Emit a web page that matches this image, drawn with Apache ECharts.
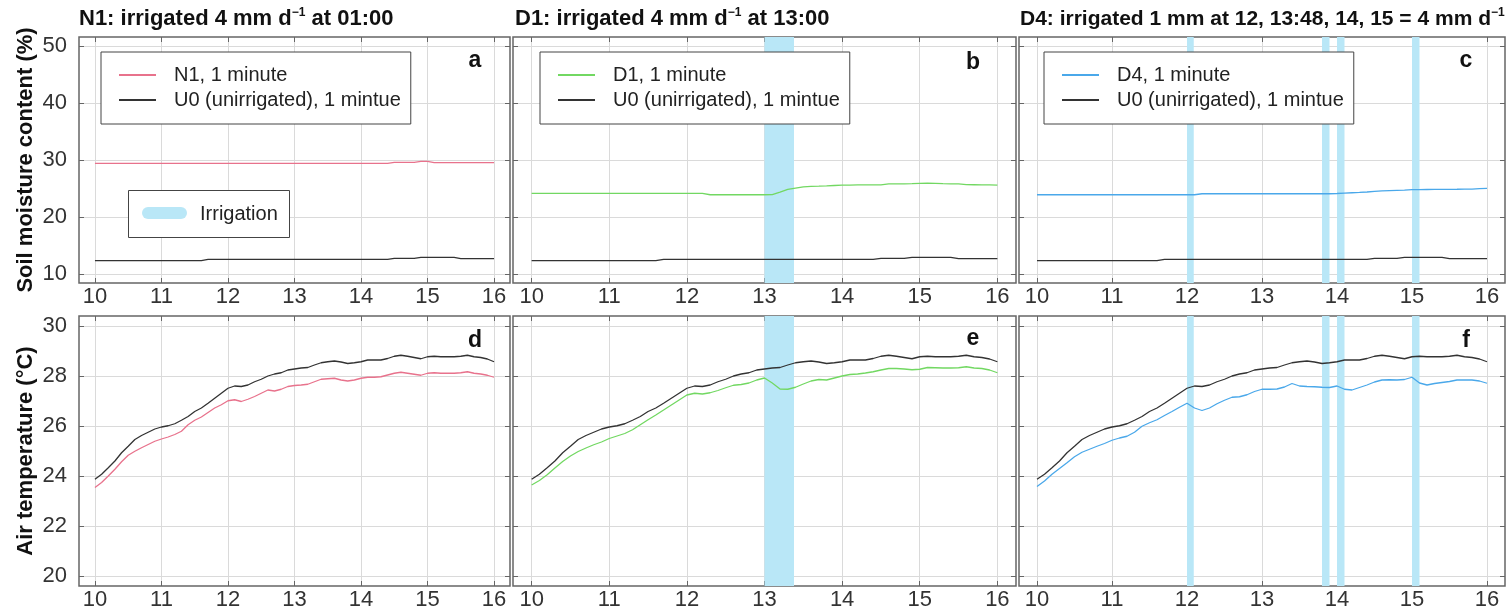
<!DOCTYPE html>
<html><head><meta charset="utf-8">
<script src="https://cdn.jsdelivr.net/npm/echarts@6/dist/echarts.min.js"></script>
<style>html,body{margin:0;padding:0;background:#fff}#c{width:1506px;height:614px}</style>
</head><body><div id="c"></div>
<script>
// ---------- DATA ----------
const hours = [10.0,10.1,10.2,10.3,10.4,10.5,10.6,10.7,10.8,10.9,
  11.0,11.1,11.2,11.3,11.4,11.5,11.6,11.7,11.8,11.9,
  12.0,12.1,12.2,12.3,12.4,12.5,12.6,12.7,12.8,12.9,
  13.0,13.1,13.2,13.3,13.4,13.5,13.6,13.7,13.8,13.9,
  14.0,14.1,14.2,14.3,14.4,14.5,14.6,14.7,14.8,14.9,
  15.0,15.1,15.2,15.3,15.4,15.5,15.6,15.7,15.8,15.9,16.0];

// Soil moisture content (%)
const moistU0 = [12.33,12.33,12.33,12.33,12.33,12.33,12.33,12.33,12.33,12.33,
  12.33,12.33,12.33,12.33,12.33,12.33,12.33,12.56,12.56,12.56,
  12.56,12.56,12.56,12.56,12.56,12.56,12.56,12.56,12.56,12.56,
  12.56,12.56,12.56,12.56,12.56,12.56,12.56,12.56,12.56,12.56,
  12.56,12.56,12.56,12.56,12.56,12.73,12.73,12.73,12.73,12.9,
  12.9,12.9,12.9,12.9,12.9,12.67,12.67,12.67,12.67,12.67,12.67];
const moistN1 = [29.42,29.42,29.42,29.42,29.42,29.42,29.42,29.42,29.42,29.42,
  29.42,29.42,29.42,29.42,29.42,29.42,29.42,29.42,29.42,29.42,
  29.42,29.42,29.42,29.42,29.42,29.42,29.42,29.42,29.42,29.42,
  29.42,29.42,29.42,29.42,29.42,29.42,29.42,29.42,29.42,29.42,
  29.42,29.42,29.42,29.42,29.42,29.6,29.6,29.6,29.6,29.77,
  29.77,29.53,29.53,29.53,29.53,29.53,29.53,29.53,29.53,29.53,29.53];
const moistD1 = [24.13,24.13,24.13,24.13,24.13,24.13,24.13,24.13,24.13,24.13,
  24.13,24.13,24.13,24.13,24.13,24.13,24.13,24.13,24.13,24.13,
  24.13,24.13,24.13,23.9,23.9,23.9,23.9,23.9,23.9,23.9,
  23.9,23.92,24.36,24.83,25.06,25.29,25.36,25.4,25.45,25.52,
  25.58,25.6,25.62,25.62,25.62,25.64,25.8,25.8,25.82,25.84,
  25.9,25.92,25.9,25.85,25.82,25.8,25.68,25.65,25.62,25.62,25.6];
const moistD4 = [23.9,23.9,23.9,23.9,23.9,23.9,23.9,23.9,23.9,23.9,
  23.9,23.9,23.9,23.9,23.9,23.9,23.9,23.9,23.9,23.9,
  23.9,23.9,24.07,24.07,24.07,24.07,24.07,24.07,24.07,24.07,
  24.07,24.07,24.07,24.07,24.07,24.07,24.07,24.07,24.07,24.07,
  24.12,24.2,24.25,24.3,24.38,24.5,24.58,24.62,24.66,24.7,
  24.78,24.8,24.82,24.83,24.84,24.85,24.86,24.88,24.9,24.98,25.0];

// Air temperature (°C)
const tempU0 = [23.87,24.07,24.33,24.6,24.93,25.19,25.46,25.62,25.75,25.88,
  25.96,26.01,26.09,26.23,26.38,26.58,26.72,26.91,27.11,27.31,
  27.51,27.6,27.58,27.64,27.77,27.87,28.0,28.08,28.13,28.24,
  28.28,28.32,28.34,28.44,28.53,28.57,28.6,28.56,28.5,28.53,
  28.57,28.64,28.64,28.64,28.7,28.79,28.83,28.79,28.74,28.69,
  28.77,28.79,28.77,28.77,28.77,28.79,28.83,28.77,28.74,28.68,28.57];
const tempN1 = [23.54,23.74,24.0,24.27,24.57,24.83,24.99,25.13,25.26,25.39,
  25.48,25.56,25.66,25.79,26.05,26.23,26.36,26.54,26.72,26.85,
  27.01,27.05,26.98,27.07,27.18,27.31,27.44,27.4,27.47,27.58,
  27.62,27.64,27.67,27.77,27.87,27.89,27.91,27.84,27.8,27.84,
  27.91,27.95,27.95,27.97,28.04,28.11,28.15,28.11,28.07,28.03,
  28.11,28.13,28.11,28.11,28.11,28.13,28.17,28.11,28.08,28.03,27.95];
const tempD1 = [23.64,23.82,24.05,24.32,24.58,24.8,24.98,25.12,25.25,25.36,
  25.5,25.6,25.7,25.85,26.05,26.25,26.44,26.64,26.84,27.04,
  27.24,27.31,27.28,27.33,27.42,27.53,27.63,27.66,27.72,27.84,
  27.92,27.72,27.48,27.47,27.55,27.68,27.8,27.86,27.84,27.92,
  28.0,28.06,28.08,28.12,28.17,28.24,28.3,28.3,28.28,28.25,
  28.27,28.34,28.33,28.32,28.32,28.33,28.37,28.32,28.3,28.24,28.13];
const tempD4 = [23.58,23.8,24.07,24.3,24.53,24.77,24.95,25.07,25.19,25.3,
  25.43,25.52,25.59,25.75,25.99,26.13,26.25,26.42,26.58,26.75,
  26.91,26.72,26.62,26.72,26.89,27.03,27.15,27.17,27.25,27.38,
  27.47,27.47,27.48,27.56,27.7,27.6,27.58,27.57,27.55,27.54,
  27.6,27.47,27.44,27.54,27.64,27.76,27.84,27.85,27.84,27.86,
  27.95,27.72,27.64,27.7,27.74,27.78,27.84,27.84,27.84,27.8,27.71];

// Irrigation periods (hour of day)
const bandsN1 = [];
const bandsD1 = [[13.0, 13.38]];
const bandsD4 = [[12.0, 12.09], [13.8, 13.9], [14.0, 14.1], [15.0, 15.1]];

// Tick labels
const xTicks = [10, 11, 12, 13, 14, 15, 16];
const moistTicks = [10, 20, 30, 40, 50];
const tempTicks = [20, 22, 24, 26, 28, 30];

// Text
const nameU0 = 'U0 (unirrigated), 1 mintue';
const nameN1 = 'N1, 1 minute';
const nameD1 = 'D1, 1 minute';
const nameD4 = 'D4, 1 minute';
const panelTitles = [
  ['N1: irrigated 4 mm d', '−1', ' at 01:00'],
  ['D1: irrigated 4 mm d', '−1', ' at 13:00'],
  ['D4: irrigated 1 mm at 12, 13:48, 14, 15 = 4 mm d', '−1', '']
];
const panelLetters = ['a', 'b', 'c', 'd', 'e', 'f'];
const yTitleMoist = 'Soil moisture content (%)';
const yTitleTemp = 'Air temperature (°C)';
const irrigationLabel = 'Irrigation';

// ---------- STYLE / LAYOUT ----------
const FONT = '"Liberation Sans", Arial, Helvetica, sans-serif';
const colU0 = '#333333', colN1 = '#e8728c', colD1 = '#72d862', colD4 = '#4aa8ea';
const bandColor = '#b9e7f7';
const frameColor = '#666666';
const cols = [{left: 79, width: 431}, {left: 513, width: 503}, {left: 1019, width: 486}];
const rows = [{top: 37, height: 246}, {top: 316, height: 270}];
const xMin = 9.76, xMax = 16.24;
const moistRange = [8.4, 51.6], tempRange = [19.6, 30.4];

const panels = [
  {col:0,row:0, main:[nameN1, moistN1, colN1], bands: bandsN1},
  {col:1,row:0, main:[nameD1, moistD1, colD1], bands: bandsD1},
  {col:2,row:0, main:[nameD4, moistD4, colD4], bands: bandsD4},
  {col:0,row:1, main:[nameN1, tempN1, colN1], bands: bandsN1},
  {col:1,row:1, main:[nameD1, tempD1, colD1], bands: bandsD1},
  {col:2,row:1, main:[nameD4, tempD4, colD4], bands: bandsD4}
];

const grid = [], xAxis = [], yAxis = [], series = [];
panels.forEach((p, i) => {
  const c = cols[p.col], r = rows[p.row];
  grid.push({left: c.left, top: r.top, width: c.width, height: r.height, show: true,
    borderColor: frameColor, borderWidth: 1.5, backgroundColor: 'transparent'});
  const yR = p.row === 0 ? moistRange : tempRange;
  const yT = p.row === 0 ? moistTicks : tempTicks;
  const tickStyle = {show: true, inside: true, length: 5, lineStyle: {color: frameColor, width: 1}};
  xAxis.push({type: 'value', gridIndex: i, min: xMin, max: xMax, position: 'bottom',
    axisLine: {show: false},
    axisTick: Object.assign({customValues: xTicks}, tickStyle),
    axisLabel: {customValues: xTicks, fontSize: 22, color: '#333', margin: 3, fontFamily: FONT},
    splitLine: {show: true, lineStyle: {color: '#dadada', width: 1}}});
  xAxis.push({type: 'value', gridIndex: i, min: xMin, max: xMax, position: 'top',
    axisLine: {show: false}, axisLabel: {show: false}, splitLine: {show: false},
    axisTick: Object.assign({customValues: xTicks}, tickStyle)});
  yAxis.push({type: 'value', gridIndex: i, min: yR[0], max: yR[1], position: 'left',
    axisLine: {show: false},
    axisTick: Object.assign({customValues: yT}, tickStyle),
    axisLabel: {show: p.col === 0, customValues: yT, fontSize: 22, color: '#333', margin: 12, fontFamily: FONT},
    splitLine: {show: true, lineStyle: {color: '#dadada', width: 1}}});
  yAxis.push({type: 'value', gridIndex: i, min: yR[0], max: yR[1], position: 'right',
    axisLine: {show: false}, axisLabel: {show: false}, splitLine: {show: false},
    axisTick: Object.assign({customValues: yT}, tickStyle)});

  const u0 = p.row === 0 ? moistU0 : tempU0;
  series.push({
    type: 'line', name: p.main[0], xAxisIndex: 2*i, yAxisIndex: 2*i,
    data: hours.map((h, k) => [h, p.main[1][k]]),
    showSymbol: false, symbol: 'none', color: p.main[2],
    lineStyle: {width: 1.3, color: p.main[2]}, z: 3,
    markArea: {silent: true, itemStyle: {color: bandColor, opacity: 1},
      data: p.bands.map(b => [{xAxis: b[0]}, {xAxis: b[1]}])}
  });
  series.push({
    type: 'line', name: nameU0, xAxisIndex: 2*i, yAxisIndex: 2*i,
    data: hours.map((h, k) => [h, u0[k]]),
    showSymbol: false, symbol: 'none', color: colU0,
    lineStyle: {width: 1.3, color: colU0}, z: 4
  });
});

const legendBase = {orient: 'vertical', top: 52, padding: [13, 10, 14, 18],
  icon: 'rect', itemWidth: 37, itemHeight: 2, itemGap: 5, borderColor: '#444', borderWidth: 1,
  backgroundColor: '#fff', selectedMode: false, z: 20,
  textStyle: {fontSize: 20, color: '#222', fontFamily: FONT, lineHeight: 20, padding: [0, 0, 0, 13]}};
const legend = [
  Object.assign({}, legendBase, {left: 101, data: [nameN1, nameU0]}),
  Object.assign({}, legendBase, {left: 540, data: [nameD1, nameU0]}),
  Object.assign({}, legendBase, {left: 1044, data: [nameD4, nameU0]})
];

const graphic = [];
const titleX = [79, 515, 1020];
const titleSize = [22, 22, 21];
panelTitles.forEach((t, j) => {
  graphic.push({type: 'text', x: titleX[j], y: 19, z: 100, style: {
    text: '{b|' + t[0] + '}{s|' + t[1] + '}{b|' + t[2] + '}',
    verticalAlign: 'middle', align: 'left',
    rich: {b: {fontSize: titleSize[j], fontWeight: 'bold', fontFamily: FONT, fill: '#111', lineHeight: 24},
           s: {fontSize: 12, fontWeight: 'bold', fontFamily: FONT, fill: '#111', lineHeight: 12, verticalAlign: 'top'}}}});
});
const letterPos = [[475, 61], [973, 63], [1466, 61], [475, 341], [973, 339], [1466, 341]];
panelLetters.forEach((l, j) => {
  graphic.push({type: 'text', x: letterPos[j][0], y: letterPos[j][1], z: 100, style: {
    text: l, fontSize: 23, fontWeight: 'bold', fontFamily: FONT, fill: '#111',
    align: 'center', verticalAlign: 'middle'}});
});
graphic.push({type: 'text', x: 26, y: 160, rotation: Math.PI / 2, z: 100, style: {
  text: yTitleMoist, fontSize: 22, fontWeight: 'bold', fontFamily: FONT, fill: '#111',
  align: 'center', verticalAlign: 'middle'}});
graphic.push({type: 'text', x: 26, y: 451, rotation: Math.PI / 2, z: 100, style: {
  text: yTitleTemp, fontSize: 22, fontWeight: 'bold', fontFamily: FONT, fill: '#111',
  align: 'center', verticalAlign: 'middle'}});
// Irrigation legend box
graphic.push({type: 'rect', z: 100, shape: {x: 128.5, y: 190.5, width: 161, height: 47},
  style: {fill: '#fff', stroke: '#444', lineWidth: 1}});
graphic.push({type: 'line', z: 101, shape: {x1: 148, y1: 213, x2: 181, y2: 213},
  style: {stroke: bandColor, lineWidth: 12, lineCap: 'round'}});
graphic.push({type: 'text', z: 101, x: 200, y: 214,
  style: {text: irrigationLabel, fontSize: 20, fontFamily: FONT, fill: '#222', verticalAlign: 'middle'}});

const option = {
  animation: false,
  backgroundColor: '#fff',
  textStyle: {fontFamily: FONT},
  grid, xAxis, yAxis, series, legend, graphic
};
const chart = echarts.init(document.getElementById('c'), null, {renderer: 'canvas'});
chart.setOption(option);
</script></body></html>
